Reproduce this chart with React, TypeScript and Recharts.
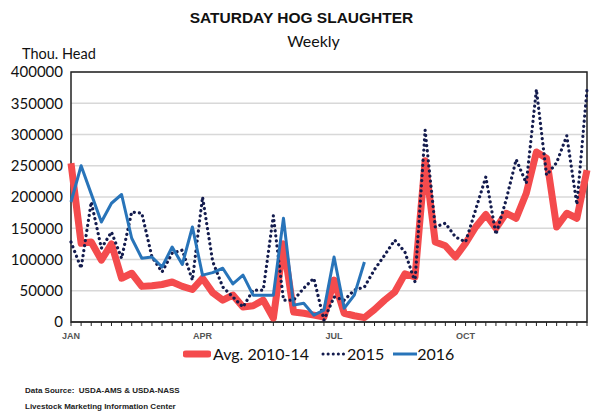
import React from 'react';
import { LineChart, Line, XAxis, YAxis, CartesianGrid, ReferenceArea } from 'recharts';

// weeks of the year
const weeks = Array.from({ length: 52 }, (_, i) => i + 1);

// heads slaughtered on saturdays
const avg1014 = [
  254000, 126000, 128000, 99000, 125000, 70000, 78000, 57000, 58000, 60000,
  64000, 57000, 52000, 70000, 47000, 35000, 43000, 24000, 26000, 35000,
  6000, 125000, 16000, 14000, 11000, 8000, 67000, 14000, 10000, 7000,
  20000, 35000, 48000, 77000, 72000, 258000, 128000, 122000, 104000, 126000,
  152000, 172000, 150000, 174000, 166000, 206000, 272000, 262000, 152000, 174000,
  166000, 243000,
];
const y2015 = [
  128000, 86000, 192000, 118000, 144000, 102000, 176000, 174000, 104000, 80000,
  110000, 115000, 67000, 200000, 97000, 56000, 40000, 24000, 51000, 51000,
  170000, 35000, 35000, 54000, 70000, 3000, 40000, 35000, 51000, 56000,
  84000, 107000, 131000, 112000, 64000, 307000, 152000, 158000, 136000, 128000,
  180000, 232000, 140000, 195000, 260000, 222000, 372000, 235000, 255000, 298000,
  188000, 372000,
];
const y2016 = [
  192000, 250000, 205000, 160000, 190000, 204000, 134000, 102000, 104000, 88000,
  120000, 92000, 152000, 75000, 79000, 86000, 61000, 75000, 43000, 43000,
  43000, 166000, 27000, 30000, 11000, 19000, 104000, 22000, 43000, 96000,
];

const monthWeeks = [1, 14, 27, 40];
const monthLabels = ['JAN', 'APR', 'JUL', 'OCT'];
const yTicks = [0, 50000, 100000, 150000, 200000, 250000, 300000, 350000, 400000];
const seriesNames = ['Avg. 2010-14', '2015', '2016'];

const data = weeks.map((w, i) => ({
  week: w,
  avg: avg1014[i],
  a2015: y2015[i],
  a2016: i < y2016.length ? y2016[i] : null,
}));

const RED = '#f44b4d';
const NAVY = '#141c4e';
const BLUE = '#2874b9';
const label = 'Lato, "Open Sans", sans-serif';

function monthTick(v: number) {
  const k = monthWeeks.indexOf(v);
  return k >= 0 ? monthLabels[k] : '';
}

export default function App() {
  return (
    <div style={{ position: 'absolute', left: 0, top: 0, width: 595, height: 420, background: '#fff', overflow: 'hidden' }}>
      <div style={{ position: 'absolute', top: 9, width: 595, paddingLeft: 4, textAlign: 'center', fontFamily: '"Liberation Sans", Arial, sans-serif', fontWeight: 'bold', fontSize: 15.5, color: '#111' }}>
        SATURDAY HOG SLAUGHTER
      </div>
      <div style={{ position: 'absolute', top: 31, width: 595, paddingLeft: 16, textAlign: 'center', fontFamily: label, fontSize: 16, color: '#111' }}>
        Weekly
      </div>
      <div style={{ position: 'absolute', top: 45, left: 22, fontFamily: label, fontSize: 14.5, color: '#111' }}>
        Thou. Head
      </div>

      <div style={{ position: 'absolute', left: 0, top: 0 }}>
        <LineChart width={595} height={420} data={data} margin={{ top: 72, right: 8, bottom: 78, left: 11 }}>
          <CartesianGrid vertical={false} stroke="#d8d8d8" strokeWidth={1.5} />
          <XAxis
            dataKey="week"
            interval={0}
            tickFormatter={monthTick}
            height={20}
            tickSize={4}
            tickMargin={7}
            stroke="#222"
            tick={{ fontSize: 9, fontWeight: 'bold', fill: '#555', fontFamily: '"Liberation Sans", Arial, sans-serif' }}
          />
          <YAxis
            domain={[0, 400000]}
            ticks={yTicks}
            width={60}
            tickSize={0}
            tickMargin={8}
            axisLine={false}
            tick={{ fontSize: 15, fill: '#111', fontFamily: label }}
          />
          <ReferenceArea x1={weeks[0]} x2={weeks[weeks.length - 1]} y1={0} y2={400000} fill="none" stroke="#222" strokeWidth={1.5} ifOverflow="visible" />
          <Line dataKey="avg" name={seriesNames[0]} stroke={RED} strokeWidth={7} strokeLinejoin="round" dot={false} isAnimationActive={false} />
          <Line dataKey="a2015" name={seriesNames[1]} stroke={NAVY} strokeWidth={3.2} strokeDasharray="0.1 5" strokeLinecap="round" dot={false} isAnimationActive={false} />
          <Line dataKey="a2016" name={seriesNames[2]} stroke={BLUE} strokeWidth={3} strokeLinejoin="round" dot={false} isAnimationActive={false} connectNulls={false} />
        </LineChart>
      </div>

      <div style={{ position: 'absolute', top: 344, left: 183, display: 'flex', alignItems: 'center', fontFamily: label, fontSize: 16, color: '#111' }}>
        <svg width={28} height={10}><line x1={3} y1={5} x2={25} y2={5} stroke={RED} strokeWidth={7} strokeLinecap="round" /></svg>
        <span style={{ marginLeft: 2, marginRight: 12 }}>{seriesNames[0]}</span>
        <svg width={26} height={10}><line x1={2} y1={5} x2={25} y2={5} stroke={NAVY} strokeWidth={3} strokeDasharray="0.1 5" strokeLinecap="round" /></svg>
        <span style={{ marginRight: 9 }}>{seriesNames[1]}</span>
        <svg width={24} height={10}><line x1={0} y1={5} x2={24} y2={5} stroke={BLUE} strokeWidth={3} /></svg>
        <span>{seriesNames[2]}</span>
      </div>

      <div style={{ position: 'absolute', top: 386, left: 25, fontFamily: '"Liberation Sans", Arial, sans-serif', fontWeight: 'bold', fontSize: 8, color: '#222', whiteSpace: 'pre' }}>
        {'Data Source:  USDA-AMS & USDA-NASS'}
      </div>
      <div style={{ position: 'absolute', top: 402, left: 25, fontFamily: '"Liberation Sans", Arial, sans-serif', fontWeight: 'bold', fontSize: 8, color: '#222' }}>
        Livestock Marketing Information Center
      </div>
    </div>
  );
}
